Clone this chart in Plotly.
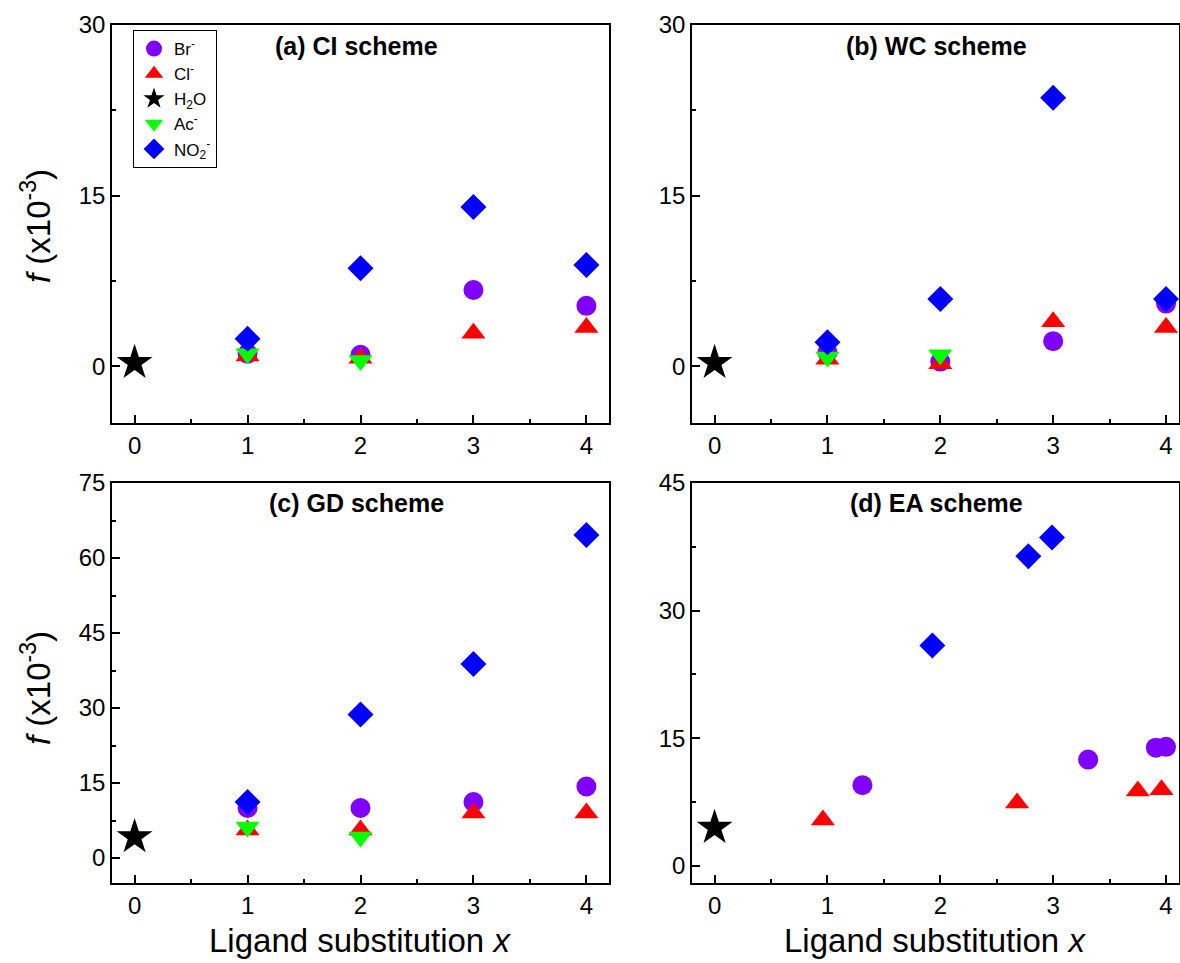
import plotly.graph_objects as go

# ---------------- data ----------------
series_names = ["Br<sup>-</sup>", "Cl<sup>-</sup>", "H<sub>2</sub>O", "Ac<sup>-</sup>", "NO<sub>2</sub><sup>-</sup>"]
colors = ["#8000FF", "#FF0000", "#000000", "#00FF00", "#0000FF"]
symbols = ["circle", "triangle-up", "star", "triangle-down", "diamond"]
sizes = [20, 21, 27, 21, 20]

# panel (a) CI scheme
a_x_br = [1, 2, 3, 4];    a_y_br = [1.1, 1.0, 6.7, 5.3]
a_x_cl = [1, 2, 3, 4];    a_y_cl = [0.9, 0.7, 2.9, 3.4]
a_x_h2o = [0];            a_y_h2o = [0.3]
a_x_ac = [1, 2];          a_y_ac = [1.1, 0.5]
a_x_no2 = [1, 2, 3, 4];   a_y_no2 = [2.4, 8.6, 14.0, 8.9]

# panel (b) WC scheme
b_x_br = [1, 2, 3, 4];    b_y_br = [1.2, 0.4, 2.2, 5.5]
b_x_cl = [1, 2, 3, 4];    b_y_cl = [0.6, 0.2, 3.9, 3.4]
b_x_h2o = [0];            b_y_h2o = [0.3]
b_x_ac = [1, 2];          b_y_ac = [0.8, 1.0]
b_x_no2 = [1, 2, 3, 4];   b_y_no2 = [2.1, 5.9, 23.6, 5.9]

# panel (c) GD scheme
c_x_br = [1, 2, 3, 4];    c_y_br = [10.0, 10.0, 11.2, 14.3]
c_x_cl = [1, 2, 3, 4];    c_y_cl = [5.6, 5.6, 9.0, 9.0]
c_x_h2o = [0];            c_y_h2o = [4.2]
c_x_ac = [1, 2];          c_y_ac = [6.2, 4.2]
c_x_no2 = [1, 2, 3, 4];   c_y_no2 = [11.2, 28.7, 38.8, 64.6]

# panel (d) EA scheme
d_x_br = [1.31, 3.31, 3.91, 4.0];   d_y_br = [9.5, 12.5, 13.9, 14.0]
d_x_cl = [0.96, 2.68, 3.75, 3.96];  d_y_cl = [5.4, 7.4, 8.8, 8.95]
d_x_h2o = [0];                      d_y_h2o = [4.5]
d_x_ac = [];                        d_y_ac = []
d_x_no2 = [1.93, 2.78, 2.99];       d_y_no2 = [25.9, 36.4, 38.6]

panel_titles = ["(a) CI scheme", "(b) WC scheme", "(c) GD scheme", "(d) EA scheme"]
x_ticks = [0, 1, 2, 3, 4]
y_ticks_top = [0, 15, 30]
y_ticks_c = [0, 15, 30, 45, 60, 75]
y_ticks_d = [0, 15, 30, 45]

panels = [
    [(a_x_br, a_y_br), (a_x_cl, a_y_cl), (a_x_h2o, a_y_h2o), (a_x_ac, a_y_ac), (a_x_no2, a_y_no2)],
    [(b_x_br, b_y_br), (b_x_cl, b_y_cl), (b_x_h2o, b_y_h2o), (b_x_ac, b_y_ac), (b_x_no2, b_y_no2)],
    [(c_x_br, c_y_br), (c_x_cl, c_y_cl), (c_x_h2o, c_y_h2o), (c_x_ac, c_y_ac), (c_x_no2, c_y_no2)],
    [(d_x_br, d_y_br), (d_x_cl, d_y_cl), (d_x_h2o, d_y_h2o), (d_x_ac, d_y_ac), (d_x_no2, d_y_no2)],
]

# ---------------- layout geometry ----------------
W, H = 1180, 963
FONT = "Liberation Sans, Arial, sans-serif"

def px_x(a, b):
    return [a / W, b / W]

def px_y(top, bottom):
    return [1 - bottom / H, 1 - top / H]

x_domains = [px_x(112, 609), px_x(692, 1179), px_x(112, 609), px_x(692, 1179)]
y_domains = [px_y(25, 423), px_y(25, 423), px_y(483, 883), px_y(483, 883)]
x_ranges = [[-0.2, 4.2], [-0.2, 4.115], [-0.2, 4.2], [-0.2, 4.115]]
y_ranges = [[-5, 30], [-5, 30], [-5, 75], [-2, 45]]
y_tickvals = [y_ticks_top, y_ticks_top, y_ticks_c, y_ticks_d]

fig = go.Figure()

for p, data in enumerate(panels):
    ax = "" if p == 0 else str(p + 1)
    for s, (xs, ys) in enumerate(data):
        fig.add_trace(go.Scatter(
            x=xs, y=ys, mode="markers",
            name=series_names[s],
            legendgroup=str(s),
            showlegend=(p == 0),
            marker=dict(symbol=symbols[s], color=colors[s], size=sizes[s], line=dict(width=0)),
            xaxis="x" + ax, yaxis="y" + ax,
        ))

axis_common = dict(
    showline=True, linecolor="black", linewidth=1.6, mirror=True,
    ticks="inside", ticklen=8, tickwidth=1.5, tickcolor="black",
    showgrid=False, zeroline=False, automargin=False,
    tickfont=dict(family=FONT, size=24, color="black"),
)

layout = dict(
    width=W, height=H,
    margin=dict(l=0, r=0, t=0, b=0, autoexpand=False),
    plot_bgcolor="white", paper_bgcolor="white",
    font=dict(family=FONT, color="black"),
    showlegend=True,
    legend=dict(
        x=133 / W, y=1 - 30 / H, xanchor="left", yanchor="top",
        bgcolor="white", bordercolor="black", borderwidth=1,
        font=dict(family=FONT, size=17, color="black"),
        tracegroupgap=0, itemsizing="trace",
    ),
)

for p in range(4):
    ax = "" if p == 0 else str(p + 1)
    layout["xaxis" + ax] = dict(
        axis_common, domain=x_domains[p], range=x_ranges[p],
        tickvals=x_ticks, anchor="y" + ax,
        minor=dict(dtick=0.5, tick0=0, ticks="inside", ticklen=4.5, tickwidth=1.5, tickcolor="black"),
    )
    layout["yaxis" + ax] = dict(
        axis_common, domain=y_domains[p], range=y_ranges[p],
        tickvals=y_tickvals[p], anchor="x" + ax,
        minor=dict(dtick=7.5, tick0=0, ticks="inside", ticklen=4.5, tickwidth=1.5, tickcolor="black"),
    )

fig.update_layout(**layout)

annotations = []
title_pos = [(356, 46), (936, 46), (356, 503), (936, 503)]
for p in range(4):
    cx, cy = title_pos[p]
    annotations.append(dict(
        text="<b>" + panel_titles[p] + "</b>", x=cx / W, y=1 - cy / H,
        xref="paper", yref="paper", xanchor="center", yanchor="middle",
        showarrow=False, font=dict(family=FONT, size=25, color="black"),
    ))

for cy in [226, 688]:
    annotations.append(dict(
        text="<i>f</i> (x10<sup>-3</sup>)", x=36 / W, y=1 - cy / H,
        xref="paper", yref="paper", xanchor="center", yanchor="middle",
        textangle=-90, showarrow=False, font=dict(family=FONT, size=33, color="black"),
    ))

for cx in [360, 935]:
    annotations.append(dict(
        text="Ligand substitution <i>x</i>", x=cx / W, y=1 - 940 / H,
        xref="paper", yref="paper", xanchor="center", yanchor="middle",
        showarrow=False, font=dict(family=FONT, size=33, color="black"),
    ))

fig.update_layout(annotations=annotations)

fig.write_html(
    "out.html",
    config={"displayModeBar": False},
    post_script="document.body.style.margin='0px';document.body.style.overflow='hidden';",
)
